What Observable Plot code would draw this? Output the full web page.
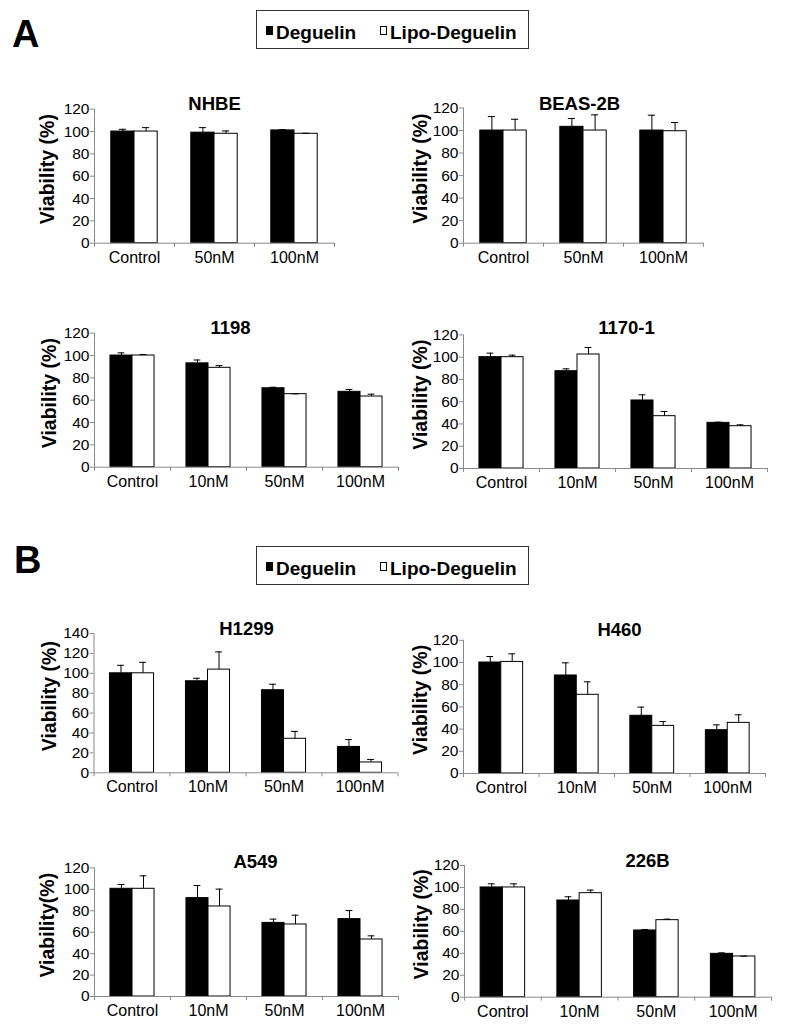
<!DOCTYPE html>
<html><head><meta charset="utf-8">
<script src="https://cdn.jsdelivr.net/npm/d3@7"></script>
<script src="https://cdn.jsdelivr.net/npm/@observablehq/plot@0.6"></script>
<style>
html,body{margin:0;padding:0;background:#fff;}
#page{position:relative;width:786px;height:1033px;overflow:hidden;font-family:"Liberation Sans",Arial,sans-serif;color:#000;}
#page svg{position:absolute;left:0;top:0;}
.abs{position:absolute;line-height:1;white-space:nowrap;}
.letter{font-weight:bold;font-size:38px;}
.legbox{border:1.5px solid #333;box-sizing:border-box;}
.legtxt{font-weight:bold;font-size:19px;}
.sqD{background:#000;}
.sqL{background:#fff;border:1px solid #000;box-sizing:border-box;}
</style>
</head><body><div id="page"></div>
<script>
// ---------- data ----------
const seriesNames = ["Deguelin", "Lipo-Deguelin"];
const cats3 = ["Control", "50nM", "100nM"];
const cats4 = ["Control", "10nM", "50nM", "100nM"];
const ticks120 = [0, 20, 40, 60, 80, 100, 120];
const ticks140 = [0, 20, 40, 60, 80, 100, 120, 140];

const nhbeDeg = [100, 99, 101], nhbeDegSD = [2, 4.5, 0.7];
const nhbeLipo = [100, 98, 98], nhbeLipoSD = [3.5, 2.5, 0.4];
const beasDeg = [100, 103.3, 100], beasDegSD = [12.4, 7.4, 13.6];
const beasLipo = [100, 100, 99.4], beasLipoSD = [10, 13.9, 7.7];
const c1198Deg = [100, 93, 70.7, 67.5], c1198DegSD = [2.4, 3, 0.9, 2.1];
const c1198Lipo = [100, 89, 65.4, 63.3], c1198LipoSD = [0.9, 2, 0.3, 2.1];
const c1170Deg = [100, 87.4, 61.1, 41], c1170DegSD = [3.6, 2.1, 5.1, 0.6];
const c1170Lipo = [100, 102.4, 47, 38], c1170LipoSD = [1.8, 6.3, 4.2, 1.2];
const h1299Deg = [100, 92, 83, 26], h1299DegSD = [8, 3, 6, 7.4];
const h1299Lipo = [100, 103.7, 34.2, 10.4], h1299LipoSD = [11, 17.8, 7.4, 3];
const h460Deg = [100, 88.3, 52, 39], h460DegSD = [5.4, 11.4, 7.8, 4.8];
const h460Lipo = [100.5, 70.9, 42.9, 45.6], h460LipoSD = [7.3, 11.7, 3.9, 7.3];
const a549Deg = [100.5, 91.8, 68.7, 72.2], a549DegSD = [4, 11.8, 3.5, 8];
const a549Lipo = [100.5, 84, 67.2, 53.2], a549LipoSD = [12.1, 16.2, 8.7, 3.4];
const b226Deg = [100, 88.1, 60.8, 39.5], b226DegSD = [3.3, 3.4, 0.9, 0.9];
const b226Lipo = [100, 94.8, 70.2, 37.1], b226LipoSD = [3.3, 2.8, 0.9, 0.3];

const yLabel = "Viability (%)";
const yLabelNoSpace = "Viability(%)";

// ---------- layout (page pixels) ----------
const W = 786, H = 1033;
const BAR = 0.29;   // bar width as a fraction of a category band
const CAP = 0.045;  // half cap width, fraction of a band

const panels = [
  {title: "NHBE", cats: cats3, deg: nhbeDeg, degSD: nhbeDegSD, lipo: nhbeLipo, lipoSD: nhbeLipoSD, ymax: 120, ticks: ticks120, ylab: yLabel,
   xL: 94, xR: 334, yTop: 108.7, y0: 242.7, titleX: 214, titleY: 96.5, labelX: 47},
  {title: "BEAS-2B", cats: cats3, deg: beasDeg, degSD: beasDegSD, lipo: beasLipo, lipoSD: beasLipoSD, ymax: 120, ticks: ticks120, ylab: yLabel,
   xL: 463, xR: 703, yTop: 107.5, y0: 242.7, titleX: 579, titleY: 96.5, labelX: 420},
  {title: "1198", cats: cats4, deg: c1198Deg, degSD: c1198DegSD, lipo: c1198Lipo, lipoSD: c1198LipoSD, ymax: 120, ticks: ticks120, ylab: yLabel,
   xL: 94, xR: 398, yTop: 332.7, y0: 466.7, titleX: 230, titleY: 320, labelX: 49},
  {title: "1170-1", cats: cats4, deg: c1170Deg, degSD: c1170DegSD, lipo: c1170Lipo, lipoSD: c1170LipoSD, ymax: 120, ticks: ticks120, ylab: yLabel,
   xL: 463, xR: 767, yTop: 334.4, y0: 468, titleX: 626, titleY: 320, labelX: 420},
  {title: "H1299", cats: cats4, deg: h1299Deg, degSD: h1299DegSD, lipo: h1299Lipo, lipoSD: h1299LipoSD, ymax: 140, ticks: ticks140, ylab: yLabel,
   xL: 93.5, xR: 397.5, yTop: 633, y0: 772.3, titleX: 246, titleY: 621, labelX: 49},
  {title: "H460", cats: cats4, deg: h460Deg, degSD: h460DegSD, lipo: h460Lipo, lipoSD: h460LipoSD, ymax: 120, ticks: ticks120, ylab: yLabel,
   xL: 463, xR: 765, yTop: 639.8, y0: 773, titleX: 619, titleY: 622, labelX: 420},
  {title: "A549", cats: cats4, deg: a549Deg, degSD: a549DegSD, lipo: a549Lipo, lipoSD: a549LipoSD, ymax: 120, ticks: ticks120, ylab: yLabelNoSpace,
   xL: 94, xR: 398, yTop: 867.4, y0: 996, titleX: 255, titleY: 854, labelX: 47.5},
  {title: "226B", cats: cats4, deg: b226Deg, degSD: b226DegSD, lipo: b226Lipo, lipoSD: b226LipoSD, ymax: 120, ticks: ticks120, ylab: yLabel,
   xL: 464, xR: 771, yTop: 865, y0: 996.7, titleX: 647, titleY: 853, labelX: 421}
];

function rowsFor(p) {
  const rows = [];
  p.cats.forEach((c, i) => {
    const m = i + 0.5;
    rows.push({series: seriesNames[0], cat: c, value: p.deg[i], top: p.deg[i] + p.degSD[i], x1: m - BAR, x2: m, xc: m - BAR / 2});
    rows.push({series: seriesNames[1], cat: c, value: p.lipo[i], top: p.lipo[i] + p.lipoSD[i], x1: m, x2: m + BAR, xc: m + BAR / 2});
  });
  return rows;
}

const page = document.getElementById("page");
const AXIS = "#8a8a8a";

for (const p of panels) {
  const n = p.cats.length;
  const rows = rowsFor(p);
  const chart = Plot.plot({
    width: W, height: H,
    marginLeft: p.xL, marginRight: W - p.xR, marginTop: p.yTop, marginBottom: H - p.y0,
    style: {background: "transparent", overflow: "visible", fontFamily: "'Liberation Sans', Arial, sans-serif", color: "#000"},
    x: {type: "linear", domain: [0, n], axis: null},
    y: {domain: [0, p.ymax], axis: null},
    color: {domain: seriesNames, range: ["#000000", "#ffffff"]},
    marks: [
      Plot.rect(rows, {x1: "x1", x2: "x2", y1: 0, y2: "value", fill: "series", stroke: "#000", strokeWidth: 1}),
      Plot.ruleX(rows, {x: "xc", y1: "value", y2: "top", stroke: "#000", strokeWidth: 1}),
      Plot.ruleY(rows, {y: "top", x1: d => d.xc - CAP, x2: d => d.xc + CAP, stroke: "#000", strokeWidth: 1}),
      Plot.ruleX([0], {stroke: AXIS, strokeWidth: 1}),
      Plot.ruleY([0], {stroke: AXIS, strokeWidth: 1}),
      Plot.axisY({ticks: p.ticks, tickSize: 4, tickPadding: 1, stroke: AXIS, fontSize: 15.5, label: null, tickFormat: d => String(d)}),
      Plot.axisX({ticks: d3.range(n + 1), tickSize: 4, stroke: AXIS, tickFormat: () => "", label: null}),
      Plot.axisX({ticks: p.cats.map((c, i) => i + 0.5), tickSize: 0, tickPadding: 8, fontSize: 16, label: null,
                  tickFormat: v => p.cats[Math.floor(v)]}),
      Plot.text([p.title], {frameAnchor: "top", dx: p.titleX - (p.xL + p.xR) / 2, dy: p.titleY - p.yTop,
                  fontSize: 18.5, fontWeight: "bold", fill: "#000"}),
      Plot.text([p.ylab], {frameAnchor: "left", textAnchor: "middle", lineAnchor: "middle", dx: p.labelX - p.xL, dy: -7, rotate: -90,
                  fontSize: 19.5, fontWeight: "bold", fill: "#000"})
    ]
  });
  page.appendChild(chart);
}

// ---------- panel letters & legends (HTML) ----------
function addDiv(cls, styles, text) {
  const d = document.createElement("div");
  d.className = "abs " + cls;
  Object.assign(d.style, styles);
  if (text) d.textContent = text;
  page.appendChild(d);
  return d;
}
const legends = [
  {letter: "A", letterLeft: 12, letterTop: 15, top: 10},
  {letter: "B", letterLeft: 14, letterTop: 541, top: 546}
];
for (const L of legends) {
  addDiv("letter", {left: L.letterLeft + "px", top: L.letterTop + "px"}, L.letter);
  addDiv("legbox", {left: "256px", top: L.top + "px", width: "273px", height: "38.5px"});
  addDiv("sqD", {left: "266px", top: (L.top + 15.7) + "px", width: "7px", height: "9px"});
  addDiv("legtxt", {left: "276px", top: (L.top + 13.2) + "px"}, seriesNames[0]);
  addDiv("sqL", {left: "380px", top: (L.top + 16) + "px", width: "7px", height: "8.5px"});
  addDiv("legtxt", {left: "390px", top: (L.top + 13.2) + "px"}, seriesNames[1]);
}
</script>
</body></html>
